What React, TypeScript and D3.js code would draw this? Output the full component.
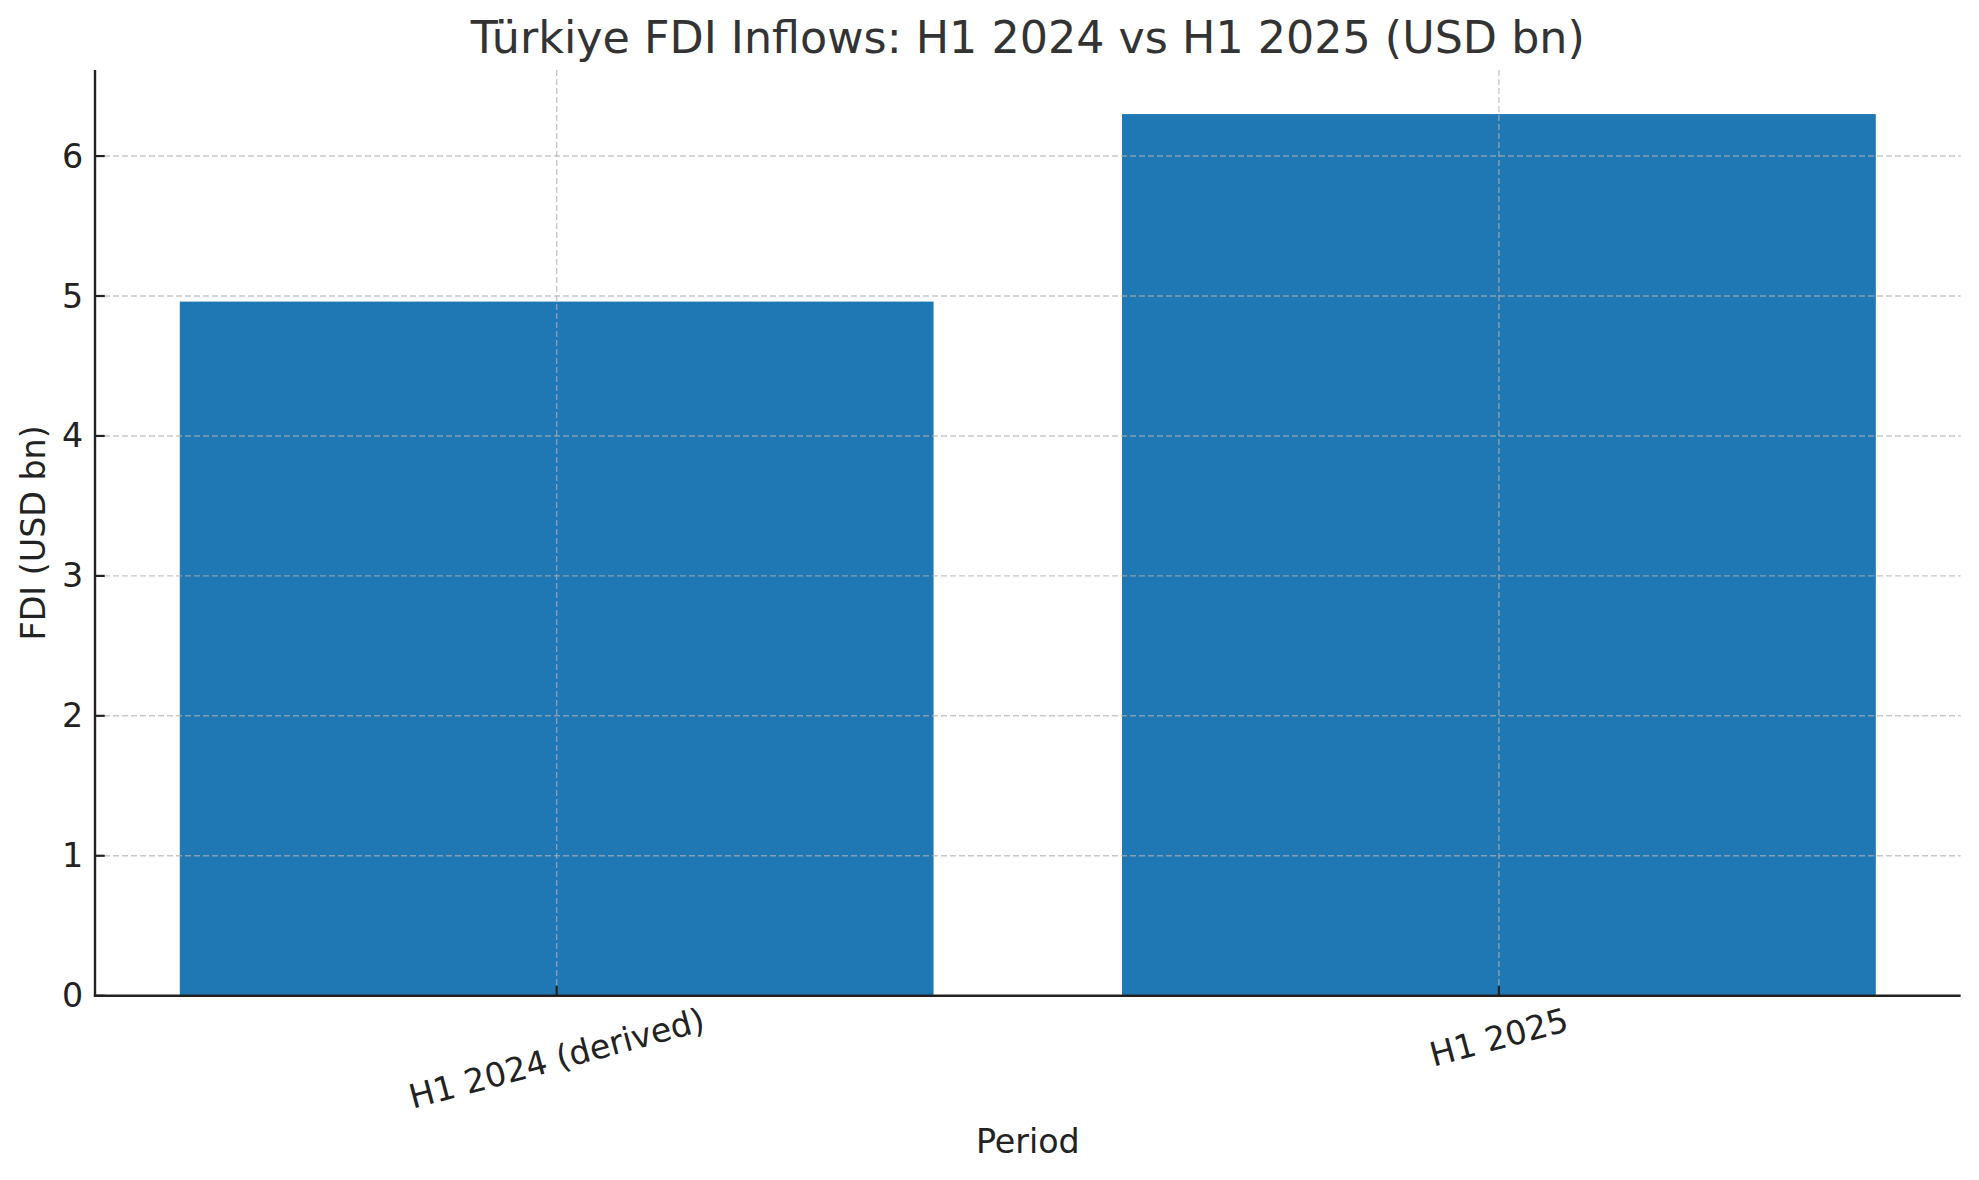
import React from "react";
import * as d3 from "d3";

const categories: string[] = ["H1 2024 (derived)", "H1 2025"];
const values: number[] = [4.96, 6.3];
const yTicks: number[] = [0, 1, 2, 3, 4, 5, 6];
const titleText = "Türkiye FDI Inflows: H1 2024 vs H1 2025 (USD bn)";
const xLabel = "Period";
const yLabel = "FDI (USD bn)";

const W = 1979;
const H = 1180;
const FONT = "DejaVu Sans, Verdana, sans-serif";
const left = 95;
const right = 1960.6;
const top = 70;
const bottom = 995.7;
const tickFont = 33.3;
const ROT = 15;

function measure(text: string, size: number): number {
  const c = document.createElement("canvas");
  const ctx = c.getContext("2d");
  if (!ctx) return text.length * size * 0.6;
  ctx.font = `${size}px ${FONT}`;
  return ctx.measureText(text).width;
}

export default function App() {
  const x = d3
    .scaleBand<string>()
    .domain(categories)
    .range([left, right])
    .paddingInner(0.2)
    .paddingOuter(0.09);
  const yMax = d3.max(values)! * 1.05;
  const y = d3.scaleLinear().domain([0, yMax]).range([bottom, top]);
  const gridColor = "#b0b0b0";
  const rad = (ROT * Math.PI) / 180;

  return (
    <svg
      width={W}
      height={H}
      style={{ position: "absolute", left: 0, top: 0, display: "block", background: "#fff" }}
      fontFamily={FONT}
    >
      <rect x={0} y={0} width={W} height={H} fill="#fff" />
      {categories.map((c, i) => (
        <rect
          key={c}
          x={x(c)!}
          y={y(values[i])}
          width={x.bandwidth()}
          height={y(0) - y(values[i])}
          fill="#1f77b4"
        />
      ))}
      {yTicks.map((t) => (
        <line
          key={"gy" + t}
          x1={left}
          x2={right}
          y1={y(t)}
          y2={y(t)}
          stroke={gridColor}
          strokeOpacity={0.7}
          strokeWidth={1.4}
          strokeDasharray="6,3"
        />
      ))}
      {categories.map((c) => {
        const cx = x(c)! + x.bandwidth() / 2;
        return (
          <line
            key={"gx" + c}
            x1={cx}
            x2={cx}
            y1={top}
            y2={bottom}
            stroke={gridColor}
            strokeOpacity={0.7}
            strokeWidth={1.4}
            strokeDasharray="6,3"
          />
        );
      })}
      {yTicks.map((t) => (
        <g key={"ty" + t}>
          <line x1={left} x2={left + 9.7} y1={y(t)} y2={y(t)} stroke="#222" strokeWidth={2.2} />
          <text
            x={83.3}
            y={y(t)}
            textAnchor="end"
            dominantBaseline="central"
            fontSize={tickFont}
            fill="#222"
          >
            {t}
          </text>
        </g>
      ))}
      {categories.map((c) => {
        const cx = x(c)! + x.bandwidth() / 2;
        const w = measure(c, tickFont);
        const h = tickFont * 0.85;
        const Hb = w * Math.sin(rad) + h * Math.cos(rad);
        const cy = bottom + 9.7 + Hb / 2;
        return (
          <g key={"tx" + c}>
            <line x1={cx} x2={cx} y1={bottom} y2={bottom - 9.7} stroke="#222" strokeWidth={2.2} />
            <text
              transform={`translate(${cx},${cy}) rotate(${-ROT})`}
              textAnchor="middle"
              dominantBaseline="central"
              fontSize={tickFont}
              fill="#222"
            >
              {c}
            </text>
          </g>
        );
      })}
      <line x1={left} x2={left} y1={top} y2={bottom} stroke="#222" strokeWidth={2.4} />
      <line x1={left - 1.2} x2={right} y1={bottom} y2={bottom} stroke="#222" strokeWidth={2.4} />
      <text x={(left + right) / 2} y={53.3} textAnchor="middle" fontSize={44.4} fill="#333">
        {titleText}
      </text>
      <text x={(left + right) / 2} y={1152.7} textAnchor="middle" fontSize={33.3} fill="#222">
        {xLabel}
      </text>
      <text
        transform={`translate(45,${(top + bottom) / 2}) rotate(-90)`}
        textAnchor="middle"
        fontSize={33.3}
        fill="#222"
      >
        {yLabel}
      </text>
    </svg>
  );
}
